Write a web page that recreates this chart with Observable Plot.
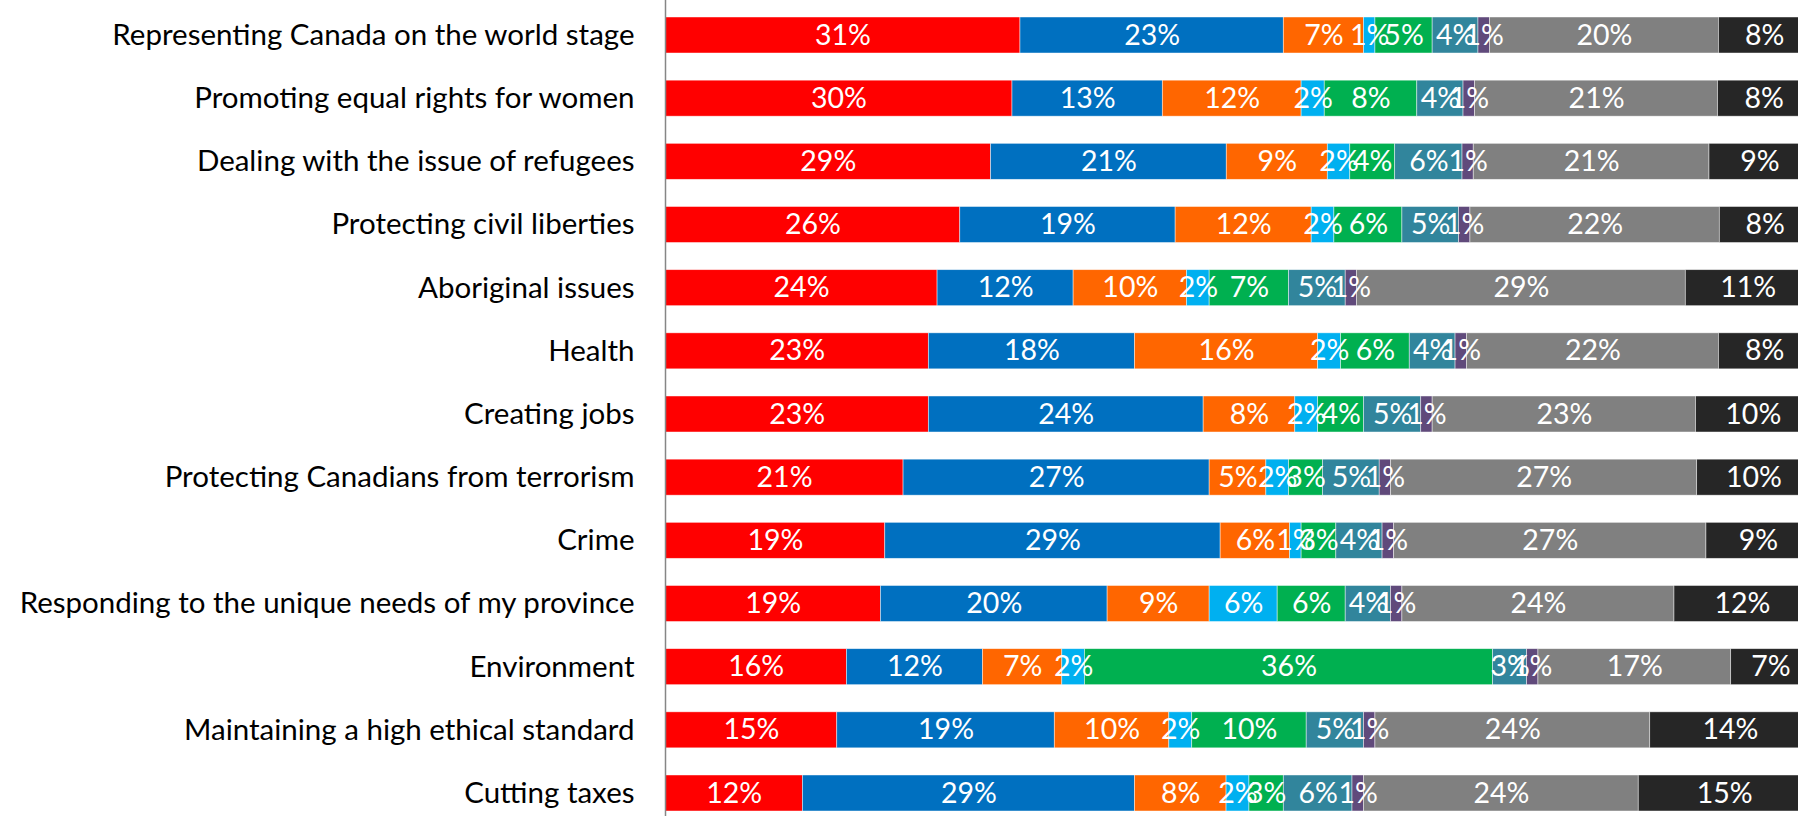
<!DOCTYPE html>
<html>
<head>
<meta charset="utf-8">
<script src="https://cdn.jsdelivr.net/npm/d3@7"></script>
<script src="https://cdn.jsdelivr.net/npm/@observablehq/plot@0.6"></script>
<style>
  html, body { margin: 0; padding: 0; background: #fff; overflow: hidden; }
  #chart svg { display: block; }
</style>
</head>
<body>
<div id="chart"></div>
<script>
const categories = [
  "Representing Canada on the world stage",
  "Promoting equal rights for women",
  "Dealing with the issue of refugees",
  "Protecting civil liberties",
  "Aboriginal issues",
  "Health",
  "Creating jobs",
  "Protecting Canadians from terrorism",
  "Crime",
  "Responding to the unique needs of my province",
  "Environment",
  "Maintaining a high ethical standard",
  "Cutting taxes"
];
const seriesNames = ["Liberal", "Conservative", "NDP", "Bloc Québécois", "Green", "Other", "Would not vote", "Don't know", "None"];
const seriesColors = ["#FF0000", "#0070C0", "#FF6600", "#00B0F0", "#00B050", "#31859C", "#604A7B", "#808080", "#262626"];

const liberal      = [31, 30, 29, 26, 24, 23, 23, 21, 19, 19, 16, 15, 12];
const conservative = [23, 13, 21, 19, 12, 18, 24, 27, 29, 20, 12, 19, 29];
const ndp          = [7, 12, 9, 12, 10, 16, 8, 5, 6, 9, 7, 10, 8];
const bloc         = [1, 2, 2, 2, 2, 2, 2, 2, 1, 6, 2, 2, 2];
const green        = [5, 8, 4, 6, 7, 6, 4, 3, 3, 6, 36, 10, 3];
const other        = [4, 4, 6, 5, 5, 4, 5, 5, 4, 4, 3, 5, 6];
const wouldNot     = [1, 1, 1, 1, 1, 1, 1, 1, 1, 1, 1, 1, 1];
const dontKnow     = [20, 21, 21, 22, 29, 22, 23, 27, 27, 24, 17, 24, 24];
const none         = [8, 8, 9, 8, 11, 8, 10, 10, 9, 12, 7, 14, 15];

const seriesValues = [liberal, conservative, ndp, bloc, green, other, wouldNot, dontKnow, none];

const table = [];
categories.forEach((c, i) => {
  seriesNames.forEach((s, j) => {
    table.push({category: c, series: s, value: seriesValues[j][i]});
  });
});

const stackOpts = {x: "value", y: "category", z: "series", offset: "normalize", order: null};

const chart = Plot.plot({
  width: 1798,
  height: 816,
  marginLeft: 665,
  marginRight: 0,
  marginTop: 0,
  marginBottom: 0,
  style: {fontFamily: "Lato, 'Open Sans', sans-serif", fontSize: "29.5px", color: "#000", background: "#fff"},
  x: {domain: [0, 0.9895], axis: null},
  y: {domain: categories, range: [17, 811], paddingInner: 0.43, paddingOuter: 0, round: false, label: null},
  color: {domain: seriesNames, range: seriesColors},
  marks: [
    Plot.barX(table, Plot.stackX({...stackOpts, fill: "series", stroke: "#ffffff", strokeOpacity: 0.6, strokeWidth: 0.75})),
    Plot.text(table, Plot.stackX({...stackOpts, text: d => d.value + "%", fill: "white", fontSize: 28.5, textAnchor: "middle"})),
    Plot.axisY({tickSize: 0, tickPadding: 31, fontSize: 29.5, fill: "#000", label: null}),
    Plot.ruleX([0], {stroke: "#868686", strokeWidth: 1.5})
  ]
});
document.getElementById("chart").appendChild(chart);
</script>
</body>
</html>
